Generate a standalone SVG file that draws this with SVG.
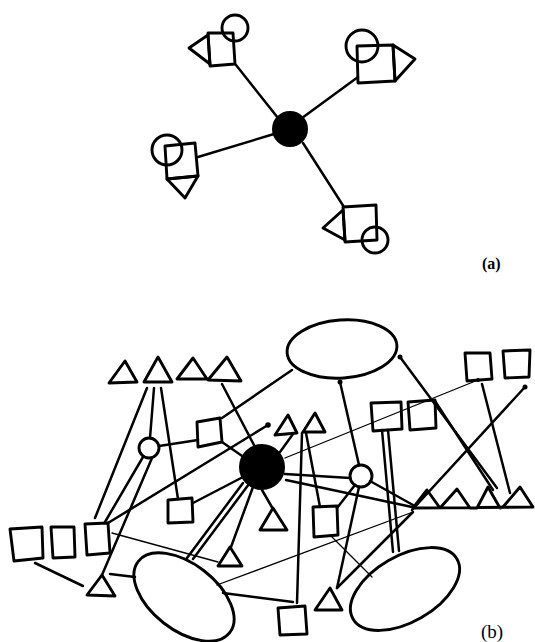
<svg xmlns="http://www.w3.org/2000/svg" width="535" height="642" viewBox="0 0 535 642">
<style>
.s{fill:none;stroke:#000;stroke-width:2.9;stroke-linejoin:round;stroke-linecap:round}
.c line{stroke:#000;stroke-width:2.5;stroke-linecap:round}
.c line.t{stroke-width:1.3}
.hub{fill:#000;stroke:#000;stroke-width:2}
.dot{fill:#000}
text{font-family:"Liberation Serif",serif;fill:#000}
</style>
<rect width="535" height="642" fill="#fff"/>
<!-- connectors -->
<g id="connectors" class="c">
<!-- part a -->
<line x1="236" y1="65" x2="278" y2="118"/>
<line x1="358" y1="77" x2="302" y2="118"/>
<line x1="198" y1="157" x2="274" y2="134"/>
<line x1="303" y1="143" x2="344" y2="207"/>
<!-- part b -->
<line x1="147" y1="388" x2="95" y2="518"/>
<line x1="154" y1="388" x2="150" y2="438"/>
<line x1="161" y1="388" x2="178" y2="499"/>
<line x1="222" y1="384" x2="255" y2="447"/>
<line x1="159" y1="446" x2="198" y2="440"/>
<line x1="143" y1="457" x2="105" y2="522"/>
<line x1="152" y1="458" x2="102" y2="575"/>
<line x1="222" y1="418" x2="292" y2="370"/>
<line x1="222" y1="442" x2="245" y2="458"/>
<line x1="268" y1="425" x2="108" y2="523"/>
<line x1="293" y1="434" x2="280" y2="452"/>
<line x1="302" y1="433" x2="297" y2="603"/>
<line x1="306" y1="433" x2="320" y2="507"/>
<line x1="285" y1="458" x2="478" y2="380" class="t"/>
<line x1="285" y1="474" x2="350" y2="478"/>
<line x1="286" y1="480" x2="412" y2="507"/>
<line x1="243" y1="483" x2="187" y2="558"/>
<line x1="249" y1="484" x2="193" y2="559"/>
<line x1="253" y1="487" x2="231" y2="547"/>
<line x1="262" y1="490" x2="273" y2="509"/>
<line x1="243" y1="477" x2="193" y2="503"/>
<line x1="359" y1="465" x2="340" y2="382"/>
<line x1="370" y1="481" x2="413" y2="505"/>
<line x1="355" y1="485" x2="337" y2="508"/>
<line x1="359" y1="487" x2="337" y2="588"/>
<line x1="382" y1="430" x2="393" y2="552"/>
<line x1="388" y1="430" x2="399" y2="551"/>
<line x1="435" y1="401" x2="493" y2="490"/>
<line x1="400" y1="357" x2="497" y2="488"/>
<line x1="482" y1="384" x2="510" y2="493"/>
<line x1="525" y1="387" x2="412" y2="510"/>
<line x1="413" y1="512" x2="337" y2="588"/>
<line x1="413" y1="512" x2="217" y2="585" class="t"/>
<line x1="330" y1="535" x2="372" y2="577" class="t"/>
<line x1="112" y1="533" x2="218" y2="562" class="t"/>
<line x1="35" y1="563" x2="83" y2="586"/>
<line x1="110" y1="574" x2="135" y2="577"/>
<line x1="223" y1="593" x2="293" y2="602"/>
</g>
<g class="dot">
<circle cx="268" cy="425" r="2.8"/>
<circle cx="340" cy="382" r="2.5"/>
<circle cx="400" cy="357" r="2.5"/>
<circle cx="525" cy="387" r="2.5"/>
<circle cx="478" cy="380" r="2"/>
</g>
<!-- part (a) nodes -->
<g id="hub-a"><circle class="hub" cx="290" cy="129" r="17"/></g>
<g id="a-topleft" class="s">
<polygon points="208,33 233,33 235,64 210,66"/>
<polygon points="208,35 189,48 210,64"/>
<circle cx="235" cy="28" r="13"/>
</g>
<g id="a-topright" class="s">
<polygon points="357,46 393,45 395,81 358,83"/>
<polygon points="393,45 415,59 395,81"/>
<circle cx="362" cy="46" r="16"/>
</g>
<g id="a-left" class="s">
<polygon points="165,146 195,143 198,176 167,179"/>
<polygon points="167,179 198,176 185,198"/>
<circle cx="167" cy="150" r="15"/>
</g>
<g id="a-bottomright" class="s">
<polygon points="343,207 376,205 377,240 345,242"/>
<polygon points="343,210 323,228 345,240"/>
<circle cx="375" cy="240" r="13"/>
</g>
<!-- part (b) nodes -->
<g id="hub-b"><circle class="hub" cx="262" cy="467" r="22"/></g>
<g id="ell-top"><ellipse class="s" cx="342" cy="349" rx="55" ry="29" transform="rotate(-4 342 349)"/></g>
<g id="ell-bl"><ellipse class="s" cx="184" cy="597" rx="58" ry="33" transform="rotate(38 184 597)"/></g>
<g id="ell-br"><ellipse class="s" cx="405" cy="589" rx="60" ry="33" transform="rotate(-30 405 589)"/></g>
<g id="tri-top-1"><polygon class="s" points="109,383 125,361 137,382"/></g>
<g id="tri-top-2"><polygon class="s" points="144,382 158,357 172,382"/></g>
<g id="tri-top-3"><polygon class="s" points="177,379 193,358 207,379"/></g>
<g id="tri-top-4"><polygon class="s" points="208,380 227,357 241,381"/></g>
<g id="circ-l"><circle class="s" cx="149" cy="448" r="10"/></g>
<g id="sq-l"><polygon class="s" points="197,422 220,418 222,442 198,447"/></g>
<g id="tri-c1"><polygon class="s" points="275,435 288,415 297,433"/></g>
<g id="tri-c2"><polygon class="s" points="303,432 315,413 325,432"/></g>
<g id="sq-r1"><polygon class="s" points="371,403 401,402 402,429 373,431"/></g>
<g id="sq-r2"><polygon class="s" points="408,402 435,400 436,428 410,430"/></g>
<g id="sq-tr1"><polygon class="s" points="465,353 490,353 492,379 467,381"/></g>
<g id="sq-tr2"><polygon class="s" points="503,351 530,350 529,377 505,378"/></g>
<g id="circ-r"><circle class="s" cx="361" cy="476" r="11"/></g>
<g id="sq-m"><polygon class="s" points="168,500 192,498 193,522 168,523"/></g>
<g id="tri-m"><polygon class="s" points="260,530 273,508 287,530"/></g>
<g id="sq-mr"><polygon class="s" points="313,507 337,506 338,535 314,537"/></g>
<g id="tri-row"><polyline class="s" points="413,508 427,490 440,508 457,489 470,508 477,508 488,487 500,508 503,507 520,487 533,507 413,508"/></g>
<g id="sq-a"><polygon class="s" points="10,529 42,527 43,558 14,561"/></g>
<g id="sq-b"><polygon class="s" points="51,527 74,527 75,557 53,558"/></g>
<g id="sq-c"><polygon class="s" points="85,524 108,523 110,553 87,555"/></g>
<g id="tri-bl"><polygon class="s" points="87,595 102,575 115,596"/></g>
<g id="tri-s"><polygon class="s" points="218,566 230,547 242,566"/></g>
<g id="sq-btm"><polygon class="s" points="278,608 305,606 307,634 280,635"/></g>
<g id="tri-btm"><polygon class="s" points="315,610 330,588 342,610"/></g>
<text x="482" y="269" font-size="16" font-weight="bold">(a)</text>
<text x="481" y="638" font-size="19">(b)</text>
</svg>
